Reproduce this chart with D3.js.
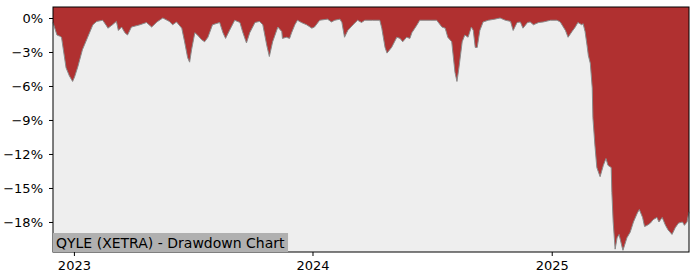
<!DOCTYPE html>
<html>
<head>
<meta charset="utf-8">
<script src="https://cdn.jsdelivr.net/npm/d3@7"></script>
<style>
  body { margin: 0; background: #fff; }
  svg { display: block; font-family: "DejaVu Sans", sans-serif; }
</style>
</head>
<body>
<div id="chart"></div>
<script>
// drawdown in %
var dates = [
  "2022-11-30","2022-12-06","2022-12-10","2022-12-13","2022-12-20","2022-12-25","2022-12-30",
  "2023-01-02","2023-01-07","2023-01-14","2023-01-22","2023-01-30","2023-02-05","2023-02-14",
  "2023-02-20","2023-02-22","2023-03-01","2023-03-07","2023-03-10","2023-03-15","2023-03-20",
  "2023-03-24","2023-03-30","2023-04-12","2023-04-22","2023-04-30","2023-05-08","2023-05-17",
  "2023-05-27","2023-06-01","2023-06-07","2023-06-15","2023-06-19","2023-06-24","2023-06-27",
  "2023-06-30","2023-07-05","2023-07-09","2023-07-15","2023-07-20","2023-07-25","2023-08-01",
  "2023-08-12","2023-08-17","2023-08-21","2023-08-27","2023-09-04","2023-09-12","2023-09-16",
  "2023-09-22","2023-09-27","2023-10-05","2023-10-12","2023-10-17","2023-10-23","2023-10-27",
  "2023-11-01","2023-11-09","2023-11-15","2023-11-16","2023-11-22","2023-11-27","2023-11-30",
  "2023-12-05","2023-12-09","2023-12-15","2023-12-23","2023-12-31",
  "2024-01-04","2024-01-12","2024-01-24","2024-01-30","2024-02-04","2024-02-12","2024-02-15",
  "2024-02-19","2024-02-24","2024-03-03","2024-03-10","2024-03-16","2024-03-21","2024-04-02",
  "2024-04-13","2024-04-16","2024-04-21","2024-04-24","2024-05-01","2024-05-09","2024-05-14",
  "2024-05-18","2024-05-24","2024-05-29","2024-06-01","2024-06-09","2024-06-13","2024-06-29",
  "2024-07-09","2024-07-17","2024-07-22","2024-07-26","2024-08-01","2024-08-06","2024-08-09",
  "2024-08-12","2024-08-17","2024-08-21","2024-08-26","2024-08-31","2024-09-03","2024-09-06",
  "2024-09-09","2024-09-13","2024-09-18","2024-09-26","2024-10-06","2024-10-14","2024-10-22",
  "2024-10-30","2024-11-03","2024-11-09","2024-11-14","2024-11-18","2024-11-25","2024-11-29",
  "2024-12-04","2024-12-12","2024-12-19","2024-12-30",
  "2025-01-09","2025-01-14","2025-01-22","2025-01-26","2025-02-01","2025-02-06","2025-02-10",
  "2025-02-16","2025-02-18","2025-02-21","2025-02-24","2025-02-26","2025-03-01","2025-03-04",
  "2025-03-05","2025-03-08","2025-03-11","2025-03-16","2025-03-21","2025-03-25","2025-03-28",
  "2025-04-02","2025-04-03","2025-04-05","2025-04-08","2025-04-11","2025-04-14","2025-04-19",
  "2025-04-20","2025-04-26","2025-05-01","2025-05-06","2025-05-12","2025-05-15","2025-05-20",
  "2025-05-23","2025-05-27","2025-06-01","2025-06-05","2025-06-11","2025-06-14","2025-06-19",
  "2025-06-24","2025-06-28","2025-07-04","2025-07-09","2025-07-14","2025-07-20","2025-07-23",
  "2025-07-27","2025-07-30"
];
var drawdown = [
  -0.4,-1.5,-1.6,-1.7,-4.4,-5.1,-5.6,
  -5.2,-4.3,-2.8,-1.7,-0.6,-0.3,-0.2,
  -0.7,-0.9,-0.6,-0.3,-1.1,-0.8,-1.3,
  -1.5,-0.8,-0.6,-0.4,-0.8,-0.35,0,
  -0.3,-0.6,-0.35,-0.9,-2.0,-3.5,-3.9,
  -2.8,-1.3,-1.5,-1.9,-2.1,-1.7,-0.6,
  -0.4,-1.3,-1.8,-1.1,-0.2,-0.4,-1.2,
  -2.2,-1.3,-0.4,-0.3,-0.6,-2.4,-3.4,
  -2.1,-0.8,-1.2,-1.8,-1.7,-1.8,-1.3,
  -0.6,-0.2,-0.4,-0.6,-0.9,
  -0.8,-0.2,-0.1,-0.35,-0.2,-0.1,-0.4,
  -1.7,-1.1,-0.6,-0.2,-0.4,-0.2,-0.2,
  -0.2,-0.9,-2.6,-3.1,-2.6,-1.7,-1.8,
  -2.1,-1.7,-1.8,-1.3,-0.6,-0.2,-0.2,
  -0.2,-0.8,-0.9,-1.7,-2.1,-4.8,-5.6,
  -4.4,-2.1,-1.5,-1.7,-0.8,-1.1,-2.6,
  -2.6,-1.1,-0.35,-0.2,-0.1,0,-0.2,
  -0.3,-1.1,-0.4,-0.35,-0.9,-0.4,-0.35,
  -0.6,-0.4,-0.35,-0.2,
  -0.2,-0.35,-1.1,-1.7,-1.2,-0.8,-0.4,
  -0.6,-0.5,-1.2,-2.4,-3.3,-4.0,-6.2,
  -8.8,-11.2,-13.2,-14.0,-13.0,-12.4,-13.0,
  -13.2,-15.4,-18.0,-20.4,-19.4,-19.1,-20.3,
  -20.5,-19.4,-18.9,-18.0,-17.2,-16.9,-17.6,
  -18.4,-18.3,-18.1,-17.8,-17.6,-18.0,-17.6,
  -18.3,-18.7,-19.1,-18.5,-18.1,-18.0,-18.3,
  -18.0,-17.1
];
var yTicks = [0, -3, -6, -9, -12, -15, -18];
var xTicks = ["2023-01-01", "2024-01-01", "2025-01-01"];
var title = "QYLE (XETRA) - Drawdown Chart";

var parse = d3.timeParse("%Y-%m-%d");
var data = dates.map(function(d, i) { return {date: parse(d), value: drawdown[i]}; });

var width = 700, height = 280;
var margin = {top: 7, right: 11, bottom: 28, left: 53};
var w = width - margin.left - margin.right;
var h = height - margin.top - margin.bottom;

var svg = d3.select("#chart").append("svg")
  .attr("width", width)
  .attr("height", height);

var g = svg.append("g")
  .attr("transform", "translate(" + margin.left + "," + margin.top + ")");

var x = d3.scaleTime()
  .domain(d3.extent(data, function(d) { return d.date; }))
  .range([0, w]);

var y = d3.scaleLinear()
  .domain([-20.65, 0.97])
  .range([h, 0]);

// red behind, grey area below the drawdown line
g.append("rect")
  .attr("width", w)
  .attr("height", h)
  .style("fill", "#b03030");

var area = d3.area()
  .x(function(d) { return x(d.date); })
  .y0(h)
  .y1(function(d) { return y(d.value); });

g.append("path")
  .datum(data)
  .attr("d", area)
  .style("fill", "#eeeeee");

var line = d3.line()
  .x(function(d) { return x(d.date); })
  .y(function(d) { return y(d.value); });

g.append("path")
  .datum(data)
  .attr("d", line)
  .style("fill", "none")
  .style("stroke", "#8a8a8a")
  .style("stroke-width", 1);

// axes
var yAxis = d3.axisLeft(y)
  .tickValues(yTicks)
  .tickSizeOuter(0)
  .tickSize(4)
  .tickPadding(6)
  .tickFormat(function(d) { return d3.format("d")(d) + "%"; });

var xAxis = d3.axisBottom(x)
  .tickValues(xTicks.map(parse))
  .tickSizeOuter(0)
  .tickSize(4)
  .tickPadding(5)
  .tickFormat(d3.timeFormat("%Y"));

var ya = g.append("g").call(yAxis);
var xa = g.append("g").attr("transform", "translate(0," + h + ")").call(xAxis);

[ya, xa].forEach(function(a) {
  a.select(".domain").remove();
  a.selectAll("text").style("font-size", "13px").style("fill", "#000")
    .style("font-family", "'DejaVu Sans', sans-serif");
  a.selectAll("line").style("stroke", "#000");
});

// frame
g.append("rect")
  .attr("width", w)
  .attr("height", h)
  .style("fill", "none")
  .style("stroke", "#000")
  .style("stroke-width", 1);

// title box
var label = g.append("g");
var txt = label.append("text")
  .attr("x", 3)
  .attr("y", h - 4)
  .style("font-size", "14px")
  .style("fill", "#000")
  .text(title);
var bb = txt.node().getBBox();
label.insert("rect", "text")
  .attr("x", 0)
  .attr("y", h - 19)
  .attr("width", bb.width + 6)
  .attr("height", 19)
  .style("fill", "#b0b0b0");
</script>
</body>
</html>
